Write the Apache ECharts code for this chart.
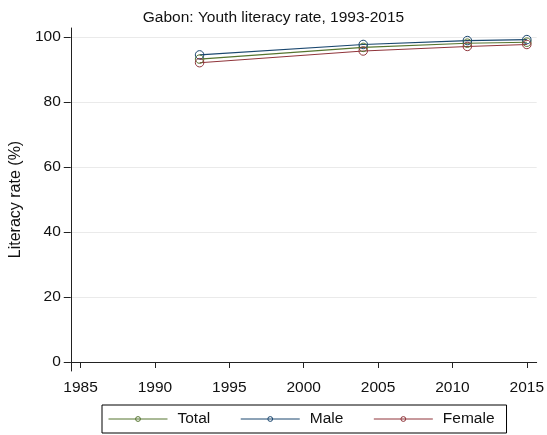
<!DOCTYPE html>
<html>
<head>
<meta charset="utf-8">
<script src="https://cdn.jsdelivr.net/npm/echarts@6/dist/echarts.min.js"></script>
<style>
  html, body { margin: 0; padding: 0; background: #fff; }
  #chart { width: 547px; height: 435px; }
</style>
</head>
<body>
<div id="chart"></div>
<script>
var years = [1993, 2004, 2011, 2015];
var total = [93.2, 96.8, 98.1, 98.4];
var male = [94.5, 97.7, 98.9, 99.2];
var female = [92.1, 95.7, 97.1, 97.7];
var xTicks = [1985, 1990, 1995, 2000, 2005, 2010, 2015];
var yTicks = [0, 20, 40, 60, 80, 100];

var font = 'Liberation Sans';

function pairs(vals) {
    var out = [];
    for (var i = 0; i < years.length; i++) {
        out.push([years[i], vals[i]]);
    }
    return out;
}

function makeSeries(name, vals, color) {
    return {
        name: name,
        type: 'line',
        data: pairs(vals),
        symbol: 'circle',
        symbolSize: 8.5,
        lineStyle: { color: color, width: 1.1 },
        itemStyle: { color: 'rgba(255,255,255,0)', borderColor: color, borderWidth: 1 },
        emphasis: { disabled: true }
    };
}

var option = {
    animation: false,
    backgroundColor: '#fff',
    title: {
        text: 'Gabon: Youth literacy rate, 1993-2015',
        left: 'center',
        top: 5,
        textStyle: { fontFamily: font, fontSize: 15.5, fontWeight: 'normal', color: '#111' }
    },
    grid: { left: 67, right: 7, top: 28, bottom: 64 },
    xAxis: {
        type: 'value',
        min: 1984.34,
        max: 2015.66,
        axisLine: { lineStyle: { color: '#222', width: 1 } },
        axisTick: { show: true, length: 6, customValues: xTicks, lineStyle: { color: '#222' } },
        axisLabel: {
            customValues: xTicks, margin: 9, fontFamily: font, fontSize: 15.5, color: '#111',
            formatter: function (v) { return String(v); }
        },
        splitLine: { show: false }
    },
    yAxis: {
        type: 'value',
        min: -2.77,
        max: 102.77,
        name: 'Literacy rate (%)',
        nameLocation: 'middle',
        nameGap: 41,
        nameTextStyle: { fontFamily: font, fontSize: 16, color: '#111' },
        axisLine: { show: true, lineStyle: { color: '#222', width: 1 } },
        axisTick: { show: true, length: 7, customValues: yTicks, lineStyle: { color: '#222' } },
        axisLabel: {
            customValues: yTicks, margin: 10, fontFamily: font, fontSize: 15.5, color: '#111',
            formatter: function (v) { return String(v); }
        },
        splitLine: { show: true, lineStyle: { color: '#eaeaea', width: 1 } }
    },
    legend: {
        left: 102,
        top: 405,
        orient: 'horizontal',
        itemWidth: 59,
        itemHeight: 6,
        itemGap: 30,
        padding: [6, 12, 6, 6],
        borderColor: '#000',
        borderWidth: 1,
        borderRadius: 0,
        itemStyle: { borderWidth: 1 },
        lineStyle: { width: 1 },
        textStyle: { fontFamily: font, fontSize: 15.5, color: '#111', padding: [0, 0, 0, 5] },
        data: ['Total', 'Male', 'Female']
    },
    series: [
        makeSeries('Total', total, '#55752f'),
        makeSeries('Male', male, '#1a476f'),
        makeSeries('Female', female, '#90353b')
    ]
};

var myChart = echarts.init(document.getElementById('chart'));
myChart.setOption(option);
</script>
</body>
</html>
